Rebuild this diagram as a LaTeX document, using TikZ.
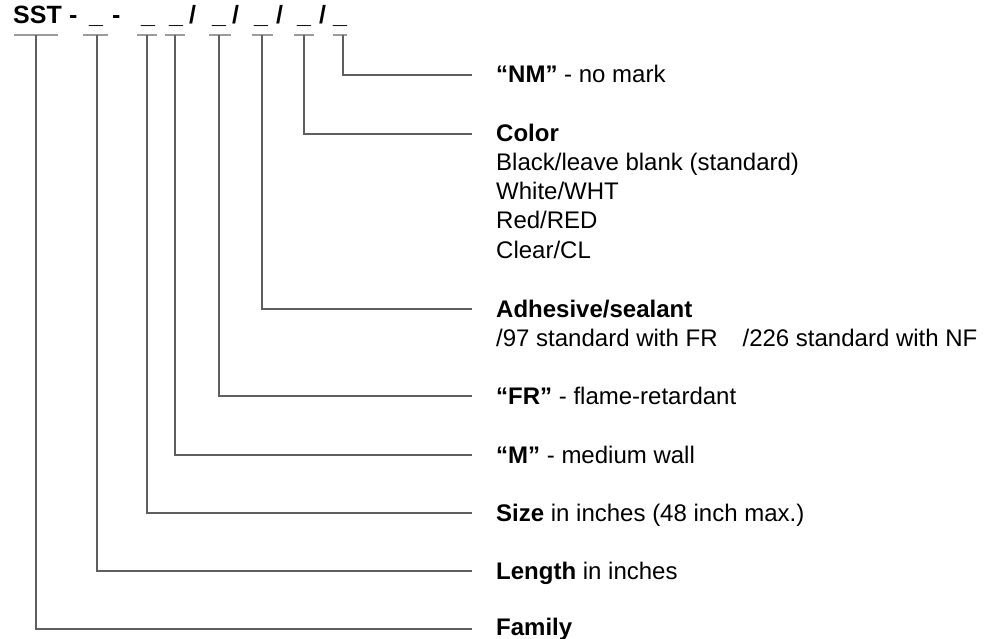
\documentclass[tikz,border=0pt]{standalone}
\usepackage{fontspec}
\setmainfont{Liberation Sans}
\definecolor{rulegray}{RGB}{155,155,155}
\definecolor{conngray}{RGB}{95,95,95}
\begin{document}
\begin{tikzpicture}[x=1pt,y=-1pt,
  txt/.style={inner sep=0pt,anchor=base west,font=\fontsize{24}{29}\selectfont},
  hdr/.style={inner sep=0pt,anchor=base west,font=\fontsize{25}{30}\selectfont\bfseries},
  rule/.style={draw=rulegray,line width=1.2pt},
  conn/.style={draw=conngray,line width=1.1pt}]
\useasboundingbox (0,0) rectangle (990,639);
% header
\node[hdr] (sst) at (13,24) {SST};
\node[hdr] (d1) at (69,24) {-};
\node[hdr] (s2) at (89,24) {\_};
\node[hdr] (d2) at (112,24) {-};
\node[hdr] (s3) at (141,24) {\_};
\node[hdr] (s4) at (169,24) {\_};
\node[hdr] (k4) at (189,24) {/};
\node[hdr] (s5) at (212,24) {\_};
\node[hdr] (k5) at (232,24) {/};
\node[hdr] (s6) at (254,24) {\_};
\node[hdr] (k6) at (276,24) {/};
\node[hdr] (s7) at (297,24) {\_};
\node[hdr] (k7) at (319,24) {/};
\node[hdr] (s8) at (333,24) {\_};
% rules under header
\draw[rule] (14,35) -- (58,35);
\draw[rule] (83,35) -- (108,35);
\draw[rule] (137,35) -- (157,35);
\draw[rule] (165,35) -- (185,35);
\draw[rule] (209,35) -- (231,35);
\draw[rule] (252,35) -- (273,35);
\draw[rule] (294,35) -- (314,35);
\draw[rule] (333,35) -- (347,35);
% rule taps
\coordinate (t1) at (36,35);
\coordinate (t2) at (97,35);
\coordinate (t3) at (147,35);
\coordinate (t4) at (175,35);
\coordinate (t5) at (219,35);
\coordinate (t6) at (262,35);
\coordinate (t7) at (304,35);
\coordinate (t8) at (343,35);
% line ends
\coordinate (e1) at (472,629);
\coordinate (e2) at (472,571);
\coordinate (e3) at (472,513);
\coordinate (e4) at (472,455);
\coordinate (e5) at (472,396);
\coordinate (e6) at (472,309);
\coordinate (e7) at (472,134);
\coordinate (e8) at (472,75);
% labels
\node[txt] (nm) at (496,83) {\textbf{“NM”} - no mark};
\node[txt] (col) at (496,142) {\textbf{Color}};
\node[txt] (col1) at (496,171) {Black/leave blank (standard)};
\node[txt] (col2) at (496,200) {White/WHT};
\node[txt] (col3) at (496,229) {Red/RED};
\node[txt] (col4) at (496,258) {Clear/CL};
\node[txt] (adh) at (496,317) {\textbf{Adhesive/sealant}};
\node[txt] (adh1) at (496,346) {/97 standard with FR\hspace{25pt}/226 standard with NF};
\node[txt] (fr) at (496,404) {\textbf{“FR”} - flame-retardant};
\node[txt] (med) at (496,463) {\textbf{“M”} - medium wall};
\node[txt] (size) at (496,521) {\textbf{Size} in inches (48 inch max.)};
\node[txt] (len) at (496,579) {\textbf{Length} in inches};
\node[txt] (fam) at (496,635) {\textbf{Family}};
% connectors
\draw[conn] (t1) |- (e1);
\draw[conn] (t2) |- (e2);
\draw[conn] (t3) |- (e3);
\draw[conn] (t4) |- (e4);
\draw[conn] (t5) |- (e5);
\draw[conn] (t6) |- (e6);
\draw[conn] (t7) |- (e7);
\draw[conn] (t8) |- (e8);
\end{tikzpicture}
\end{document}
